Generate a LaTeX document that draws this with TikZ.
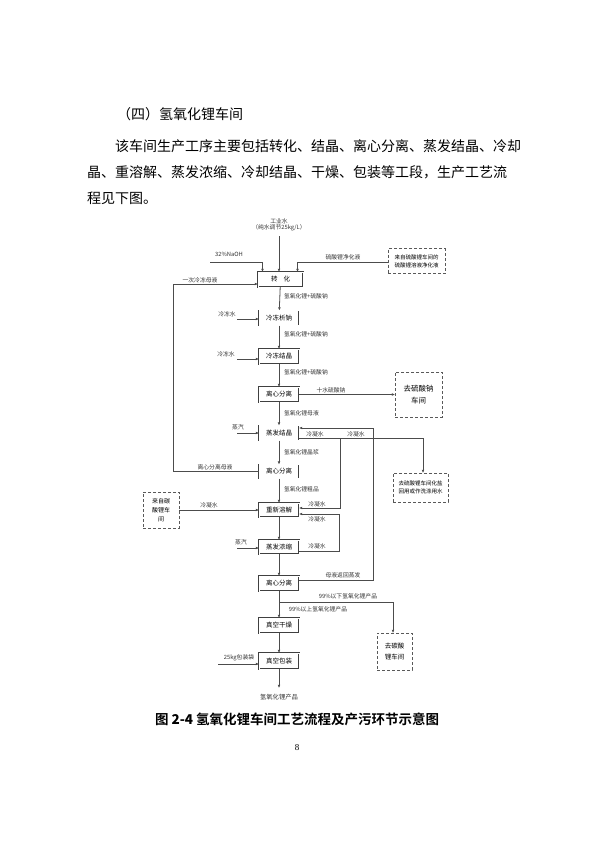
\documentclass[tikz,border=0pt]{standalone}
\usepackage{fontspec}
\setmainfont{Liberation Serif}
\newfontfamily\cjk{Noto Sans CJK SC}
\newfontfamily\cjkb{Noto Sans CJK SC Bold}
\usetikzlibrary{arrows.meta,calc}
\begin{document}
\begin{tikzpicture}[x=1pt,y=-1pt,
  every node/.style={inner sep=0pt,outer sep=0pt},
  para/.style={anchor=west,font=\cjk\fontsize{14}{14}\selectfont},
  proc/.style={draw=black!75,line width=0.45pt,double=white,double distance=0.7pt,
     minimum width=40pt,minimum height=15pt,font=\cjk\fontsize{6.5}{7}\selectfont,fill=white},
  dbox/.style={draw=black!65,line width=0.8pt,dash pattern=on 3pt off 2pt,
     align=center,font=\cjk\fontsize{5.5}{8}\selectfont},
  lbl/.style={font=\cjk\fontsize{5.8}{6.5}\selectfont,text=black!80},
  ln/.style={draw=black!70,line width=0.8pt},
  arr/.style={ln,-{Latex[length=3.2pt,width=2.8pt]}}]
\useasboundingbox (0,0) rectangle (595,842);
\fill[white] (0,0) rectangle (595,842);

% ---- text above ----
\node[para] (title) at (117,114) {（四）氢氧化锂车间};
\node[para] (p1) at (115,146) {该车间生产工序主要包括转化、结晶、离心分离、蒸发结晶、冷却};
\node[para] (p2) at (87,172) {晶、重溶解、蒸发浓缩、冷却结晶、干燥、包装等工段，生产工艺流};
\node[para] (p3) at (87,198) {程见下图。};

% ---- process boxes ----
\node[proc,minimum width=45pt] (b1) at (280.5,279.5) {转\hspace{6pt}化};
\node[proc] (b2) at (279,318) {冷冻析钠};
\node[proc] (b3) at (279,356.5) {冷冻结晶};
\node[proc] (b4) at (279,394.5) {离心分离};
\node[proc] (b5) at (279,433) {蒸发结晶};
\node[proc,minimum height=14pt] (b6) at (279,471.5) {离心分离};
\node[proc,minimum height=14pt] (b7) at (279,510) {重新溶解};
\node[proc,minimum height=14pt] (b8) at (279,547) {蒸发浓缩};
\node[proc] (b9) at (279,583.5) {离心分离};
\node[proc] (b10) at (279,625.5) {真空干燥};
\node[proc,minimum height=16pt] (b11) at (279,661) {真空包装};

% ---- dashed boxes ----
\node[dbox,minimum width=57pt,minimum height=25pt] (d1) at (416.5,261) {来自硫酸锂车间的\\硫酸锂溶液净化液};
\node[dbox,minimum width=47pt,minimum height=45pt,font=\cjk\fontsize{7.5}{12}\selectfont] (d2) at (418.5,394.5) {去硫酸钠\\车间};
\node[dbox,minimum width=55pt,minimum height=29pt] (d3) at (420.5,487.5) {去硫酸锂车间化盐\\回用或作洗涤用水};
\node[dbox,minimum width=36pt,minimum height=36pt,font=\cjk\fontsize{6}{9}\selectfont] (d4) at (161,510) {来自碳\\酸锂车\\间};
\node[dbox,minimum width=35pt,minimum height=37pt,font=\cjk\fontsize{6.5}{11}\selectfont] (d5) at (394.5,651.5) {去碳酸\\锂车间};

% ---- coordinates ----
\coordinate (t0) at (279,236);
\coordinate (n0) at (210,262);
\coordinate (w2) at (237,319);
\coordinate (w3) at (237,359);
\coordinate (s5) at (237,433);
\coordinate (s8) at (237,548);
\coordinate (p11) at (218,664);
\coordinate (L1) at (173,284);
\coordinate (R3) at (423,438);
\coordinate (C1) at (340,438);
\coordinate (C2) at (340,508);
\coordinate (K1) at (339,551);
\coordinate (K2) at (339,514);
\coordinate (M1) at (373,580);
\coordinate (M2) at (373,428);
\coordinate (B1) at (279,602);
\coordinate (B2) at (393,602);
\coordinate (out) at (279,688);

% ---- top inputs ----
\node[lbl,align=center] (top) at (279,225) {工业水\\（纯水调节25kg/L）};
\draw[arr] (t0) -- (t0 |- b1.north);
\node[lbl] (naoh) at (229,254) {32\%NaOH};
\draw[arr] (n0) -| ([xshift=-18pt]b1.north);
\draw[arr] (d1.west |- n0) -| ([xshift=17pt]b1.north);
\node[lbl] (l1) at (343,257) {硫酸锂净化液};

% ---- left recycle ----
\draw[arr] (b6.west) -| (L1) -- (L1 -| b1.west);
\node[lbl] (l2) at (200,280) {一次冷冻母液};
\node[lbl] (l3) at (215,467) {离心分离母液};

% ---- trunk ----
\draw[arr] (b1) -- (b2);
\node[lbl,anchor=west] at (284,296) {氢氧化锂+硫酸钠};
\draw[arr] (b2) -- (b3);
\node[lbl,anchor=west] at (284,334) {氢氧化锂+硫酸钠};
\draw[arr] (b3) -- (b4);
\node[lbl,anchor=west] at (284,372) {氢氧化锂+硫酸钠};
\draw[arr] (b4) -- (b5);
\node[lbl,anchor=west] at (284,413) {氢氧化锂母液};
\draw[arr] (b5) -- (b6);
\node[lbl,anchor=west] at (284,452) {氢氧化锂晶浆};
\draw[arr] (b6) -- (b7);
\node[lbl,anchor=west] at (284,489) {氢氧化锂粗品};
\draw[arr] (b7) -- (b8);
\draw[arr] (b8) -- (b9);
\draw[arr] (b9) -- (b10);
\draw[arr] (b10) -- (b11);
\draw[arr] (b11) -- (out);
\node[lbl,font=\cjk\fontsize{6.3}{7}\selectfont] (prod) at (279,697) {氢氧化锂产品};

% ---- left inputs ----
\draw[arr] (w2) -- (w2 -| b2.west);
\node[lbl] at (227,314) {冷冻水};
\draw[arr] (w3) -- (w3 -| b3.west);
\node[lbl] at (226,354) {冷冻水};
\draw[arr] (s5) -- (s5 -| b5.west);
\node[lbl] at (238,427) {蒸汽};
\draw[arr] (s8) -- (s8 -| b8.west);
\node[lbl] at (241,542) {蒸汽};
\draw[arr] (p11) -- (p11 -| b11.west);
\node[lbl] at (239,658) {25kg包装袋};
\draw[arr] (d4.east) -- (b7.west);
\node[lbl] at (209,505) {冷凝水};

% ---- right side ----
\draw[arr] (b4.east) -- (b4.east -| d2.west);
\node[lbl] at (331,390) {十水硫酸钠};
\draw[arr] (b5.east |- R3) -- (R3) -- (R3 |- d3.north);
\node[lbl] at (315,434) {冷凝水};
\node[lbl] at (356,434) {冷凝水};
\draw[arr] (C1) -- (C2) -- (C2 -| b7.east);
\node[lbl] at (317,504) {冷凝水};
\draw[arr] (b8.east |- K1) -- (K1) -- (K2) -- (K2 -| b7.east);
\node[lbl] at (317,519) {冷凝水};
\node[lbl] at (317,546) {冷凝水};
\draw[arr] (b9.east |- M1) -- (M1) -- (M2) -- (M2 -| b5.east);
\node[lbl] at (343,575) {母液返回蒸发};
\draw[ln] (B1) -- (B2);
\draw[arr] (B2) -- (B2 |- d5.north);
\node[lbl] at (348,596) {99\%以下氢氧化锂产品};
\node[lbl] at (318,609) {99\%以上氢氧化锂产品};

% ---- caption ----
\node[anchor=west,font=\cjkb\fontsize{13.5}{13.5}\selectfont] (cap) at (155,719) {图 {\bfseries 2-4} 氢氧化锂车间工艺流程及产污环节示意图};
\node[font=\fontsize{9}{9}\selectfont] (pg) at (297,748) {8};
\end{tikzpicture}
\end{document}
